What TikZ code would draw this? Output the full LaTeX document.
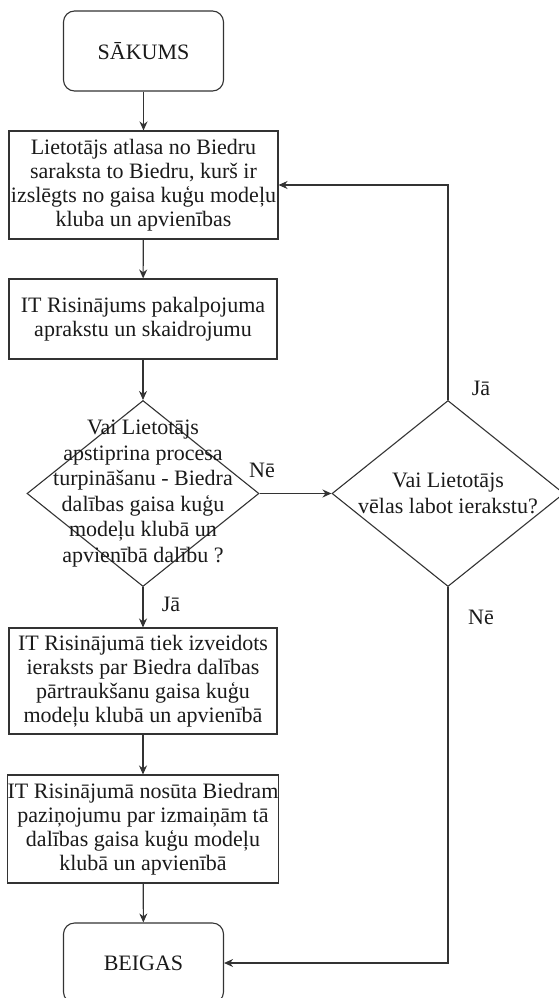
\documentclass[tikz,border=0pt]{standalone}
\usepackage{fontspec}
\setmainfont{Liberation Serif}
\usetikzlibrary{arrows.meta, positioning, shapes.geometric}
\definecolor{ink}{HTML}{1A1A1A}
\definecolor{rule}{HTML}{333333}
\tikzset{
  font=\fontsize{22}{24}\selectfont,
  >={Stealth[length=9pt, width=8pt]},
  %
  terminal/.style={
    draw=rule, line width=1.1pt, rounded corners=11pt, align=center,
    text=ink, minimum width=160pt, minimum height=80pt, inner sep=0pt,
  },
  stepbox/.style={
    draw=rule, line width=1.1pt, align=center, text=ink, inner sep=0pt,
  },
  decision/.style={
    draw=rule, line width=1.1pt, diamond, inner sep=0pt,
    minimum width=232pt, minimum height=186pt,
  },
  dtext/.style={align=center, text=ink, inner sep=0pt,
                font=\fontsize{22}{25.5}\selectfont},
  %
  flow/.style={draw=rule, line width=1.1pt, ->},
  lbl/.style={font=\fontsize{22}{24}\selectfont, text=ink, inner sep=0pt},
}
\begin{document}
\begin{tikzpicture}[x=1pt, y=-1pt]
\useasboundingbox (0,0) rectangle (558,998);

% =========================================================================
% main column
% =========================================================================
\node[terminal] (start) at (143.5,51) {SĀKUMS};

\node[stepbox, minimum width=269pt, minimum height=108pt] (list) at (143.5,185)
  {Lietotājs atlasa no Biedru\\saraksta to Biedru, kurš ir\\izslēgts no gaisa kuģu modeļu\\kluba un apvienības};

\node[stepbox, minimum width=268pt, minimum height=80pt] (descr) at (143,319)
  {IT Risinājums pakalpojuma\\aprakstu un skaidrojumu};

\node[decision] (confirm) at (143,493.5) {};
\node[dtext] (confirm-t) at (confirm.center)
  {Vai Lietotājs\\apstiprina procesa\\turpināšanu - Biedra\\dalības gaisa kuģu\\modeļu klubā un\\apvienībā dalību ?};

\node[stepbox, minimum width=268pt, minimum height=106pt] (record) at (143,681)
  {IT Risinājumā tiek izveidots\\ieraksts par Biedra dalības\\pārtraukšanu gaisa kuģu\\modeļu klubā un apvienībā};

\node[stepbox, minimum width=268pt, minimum height=108pt] (notify) at (143,829)
  {IT Risinājumā nosūta Biedram\\paziņojumu par izmaiņām tā\\dalības gaisa kuģu modeļu\\klubā un apvienībā};

\node[terminal] (end) at (143.5,963) {BEIGAS};

% =========================================================================
% side question
% =========================================================================
\node[decision] (fix) at (448,493.5) {};
\node[dtext] (fix-t) at (fix.center) {Vai Lietotājs\\vēlas labot ierakstu?};

% connectors
\draw[flow] (start) -- (list);
\draw[flow] (list) -- (descr);
\draw[flow] (descr) -- (confirm.north);
\draw[flow] (confirm.south) -- (record);
\draw[flow] (record) -- (notify);
\draw[flow] (notify) -- (end);
\draw[flow] (confirm.east) -- (fix.west);
\draw[flow] (fix.north) |- (list.east);
\draw[flow] (fix.south) |- (end.east);

% answers
\node[lbl] (no-a)  at (262,470) {Nē};
\node[lbl] (yes-a) at (171,604) {Jā};
\node[lbl] (yes-b) at (481,388) {Jā};
\node[lbl] (no-b)  at (481,617) {Nē};

\end{tikzpicture}
\end{document}
